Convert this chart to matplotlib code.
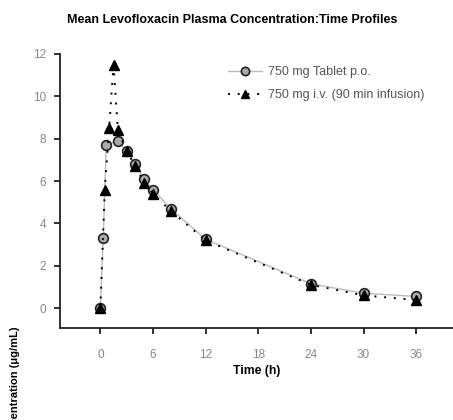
import matplotlib
matplotlib.use("Agg")
import matplotlib.pyplot as plt

plt.rcParams['font.family'] = ['Liberation Sans', 'DejaVu Sans']

title = "Mean Levofloxacin Plasma Concentration:Time Profiles"
xlabel = "Time (h)"
ylabel = "Mean Plasma Concentration (μg/mL)"

oral_label = "750 mg Tablet p.o."
oral_t = [0, 0.33, 0.67, 2, 3, 4, 5, 6, 8, 12, 24, 30, 36]
oral_c = [0, 3.3, 7.7, 7.9, 7.4, 6.8, 6.1, 5.6, 4.7, 3.25, 1.15, 0.7, 0.55]

iv_label = "750 mg i.v. (90 min infusion)"
iv_t = [0, 0.5, 1, 1.5, 2, 3, 4, 5, 6, 8, 12, 24, 30, 36]
iv_c = [0, 5.6, 8.5, 11.5, 8.4, 7.4, 6.7, 5.9, 5.4, 4.6, 3.2, 1.1, 0.6, 0.38]

xticks = [0, 6, 12, 18, 24, 30, 36]
yticks = [0, 2, 4, 6, 8, 10, 12]

fig = plt.figure(figsize=(4.53, 4.20), dpi=100)
ax = fig.add_axes([60/453, 1-328/420, 393/453, (328-54)/420])

ax.plot(oral_t, oral_c, color='#bbbbbb', lw=1.0, marker='o', ms=7,
        mfc='#aaaaaa', mec='#222222', mew=1.2, label=oral_label, zorder=2)
ax.plot(iv_t, iv_c, color='black', lw=1.4, ls=(0, (1, 4)), marker='^', ms=7,
        mfc='black', mec='black', label=iv_label, zorder=3)

ax.set_xlim(-4.6, 40.2)
ax.set_ylim(-0.94, 12)
ax.set_xticks(xticks)
ax.set_yticks(yticks)
for s in ['top', 'right']:
    ax.spines[s].set_visible(False)
for s in ['left', 'bottom']:
    ax.spines[s].set_linewidth(1.3)
    ax.spines[s].set_color('#222222')
ax.tick_params(axis='both', direction='out', length=4, width=1.3, color='#222222',
               labelsize=8.5, labelcolor='#888888')
ax.tick_params(axis='x', pad=11)
ax.tick_params(axis='y', pad=6)
ax.set_xlabel(xlabel, fontsize=8.8, fontweight='bold', labelpad=3)

leg = ax.legend(loc='upper left', bbox_to_anchor=(0.427, 0.955), frameon=False,
                fontsize=9, handlelength=2.7, labelspacing=0.85, handletextpad=0.5,
                borderpad=0, borderaxespad=0, markerscale=0.85)
for t in leg.get_texts():
    t.set_color('#555555')

fig.text(232/453, 1-20/420, title, ha='center', va='center', fontsize=9,
         fontweight='bold')
fig.text(15/453, 1-326/420, ylabel, rotation=90, ha='center', va='top',
         fontsize=8, fontweight='bold')

fig.savefig('out.png', dpi=100)
